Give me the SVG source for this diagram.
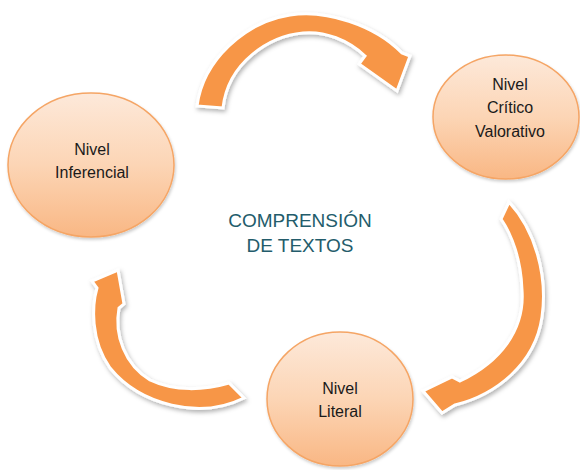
<svg xmlns="http://www.w3.org/2000/svg" width="580" height="470" viewBox="0 0 580 470">
  <defs>
    <linearGradient id="nodeFill" x1="0" y1="0" x2="0" y2="1">
      <stop offset="0" stop-color="#fde9da"/>
      <stop offset="0.5" stop-color="#fcd5b5"/>
      <stop offset="1" stop-color="#f9b784"/>
    </linearGradient>
    <filter id="arrowShadow" x="-20%" y="-20%" width="140%" height="140%">
      <feDropShadow dx="1.5" dy="2.5" stdDeviation="2" flood-color="#000" flood-opacity="0.3"/>
    </filter>
    <filter id="nodeShadow" x="-20%" y="-20%" width="140%" height="140%">
      <feDropShadow dx="1" dy="2" stdDeviation="1.5" flood-color="#000" flood-opacity="0.2"/>
    </filter>
  </defs>
  <style>
    .node ellipse { fill: url(#nodeFill); stroke: #f5a565; stroke-width: 1.5; filter: url(#nodeShadow); }
    .node text { font-family: "Liberation Sans", Arial, sans-serif; font-size: 16px; fill: #1a1a1a; text-anchor: middle; }
    .arrow { fill: #f79646; stroke: #ffffff; stroke-width: 3; stroke-linejoin: miter; filter: url(#arrowShadow); }
    .title { font-family: "Liberation Sans", Arial, sans-serif; font-size: 19px; fill: #235c6b; text-anchor: middle; }
  </style>
  <rect width="580" height="470" fill="#ffffff"/>

  <g id="connectors">
    <path class="arrow" d="M197,106 C203,60 245,22 290,15 C325,9 375,25 402,53 L410,56 L397,91 L359,64 L365,56 C348,40 325,31 303,33 C270,36 228,62 223,108 Z"/>
    <path class="arrow" d="M509,202 C535,230 548,275 542,317 C535,365 495,395 455,405 L442,413 L423,391 L452,377 L460,381 C500,362 525,330 522,290 C521,260 512,235 501,219 Z"/>
    <path class="arrow" d="M244,398 C200,420 140,405 110,368 C90,340 92,305 97,288 L92,281 L118,270 L124,304 L119,308 C114,335 125,365 150,380 C175,392 205,390 229,383 Z"/>
  </g>

  <g id="node-inferencial" class="node">
    <ellipse cx="91" cy="165" rx="83" ry="72"/>
    <text x="92" y="155">Nivel</text>
    <text x="92" y="178">Inferencial</text>
  </g>

  <g id="node-critico" class="node">
    <ellipse cx="506" cy="117" rx="73" ry="62"/>
    <text x="510" y="90">Nivel</text>
    <text x="510" y="113">Crítico</text>
    <text x="510" y="137">Valorativo</text>
  </g>

  <g id="node-literal" class="node">
    <ellipse cx="340" cy="399" rx="73" ry="67"/>
    <text x="340" y="394">Nivel</text>
    <text x="340" y="417">Literal</text>
  </g>

  <g id="center-label">
    <text class="title" x="300" y="227">COMPRENSIÓN</text>
    <text class="title" x="300" y="252">DE TEXTOS</text>
  </g>
</svg>
